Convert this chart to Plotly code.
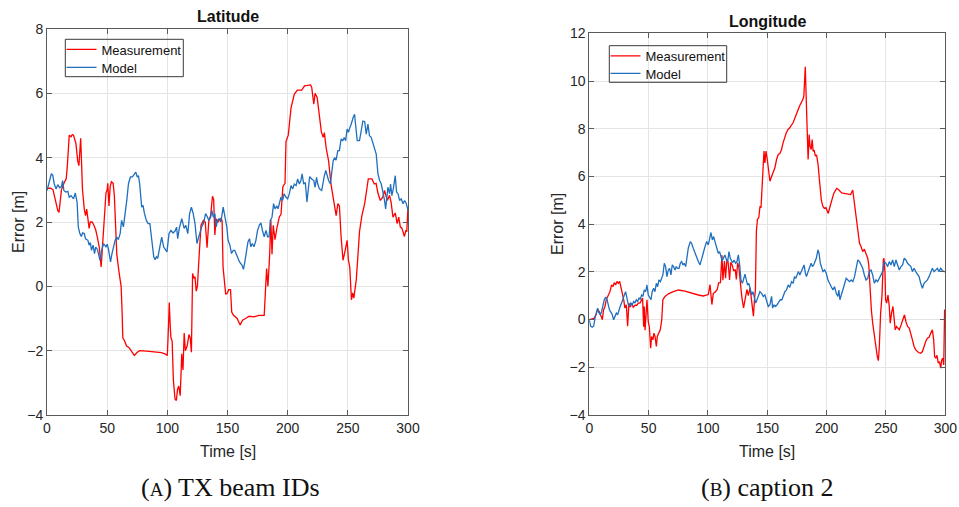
import plotly.graph_objects as go

# ---------------- data ----------------
lat_meas_t = [0, 3, 5, 7, 9, 10, 12, 14, 16, 17, 18.5, 20, 21, 22, 23, 24, 25.5, 26.5, 28, 29.5, 31, 32, 33, 34, 35, 36,
              37.5, 39, 40.5, 42, 43.5, 45, 46.5, 48, 49, 50, 50.5, 51.5, 52.5, 53.5, 55, 56, 57, 58, 60, 61.6, 62.5, 63,
              64.5, 66, 68, 70, 72.6, 75, 77, 85, 95, 98, 100, 101, 101.6, 102.5, 103, 104, 105, 106.4, 107.5, 108.5,
              109.5, 110.7, 112, 113, 114, 115, 116.5, 118, 119, 120, 121, 122, 123, 124, 125, 126.5, 128, 130, 131.5,
              133, 134.5, 136, 137.5, 138.5, 139.5, 140.5, 142, 144, 145.5, 146.3, 147.5, 148.5, 150, 151, 152.5, 153.5,
              155, 156.5, 158, 160.5, 162.5, 165, 168, 172, 176, 180.5, 182.5, 183.6, 185, 186, 187, 188, 189.5, 191,
              193, 194.5, 196, 197.8, 198.6, 200.5, 202.8, 205.5, 208, 211.7, 214, 219, 220, 221.7, 222.8, 224.5, 226,
              228, 229.5, 230.5, 232, 234, 236, 238.3, 240.3, 241.7, 243, 244.4, 246, 247.8, 249.4, 250.5, 251.6, 253,
              254, 255, 257, 258.3, 259.7, 261.7, 264, 266, 267, 270, 272, 273.5, 275, 277, 279, 280.5, 282.8, 284.7,
              286, 287.5, 289.4, 291, 292.3, 293.6, 295, 297, 298.3, 299, 300]
lat_meas_v = [3.05, 3.05, 3.0, 2.7, 2.35, 2.3, 3.0, 3.2, 3.35, 3.8, 4.7, 4.65, 4.72, 4.7, 4.55, 4.45, 3.9, 3.75, 4.6, 3.0,
              2.4, 2.2, 2.4, 2.1, 1.8, 2.0, 2.0, 1.9, 1.75, 1.5, 1.2, 0.6, 1.5, 2.3, 2.9, 3.0, 3.2, 2.5, 3.1, 3.25, 3.2,
              2.8, 2.0, 1.0, 0.4, 0.0, -0.9, -1.6, -1.7, -1.85, -1.9, -2.0, -2.15, -2.05, -2.0, -2.02, -2.06, -2.1,
              -2.15, -1.2, -0.5, -1.3, -1.6, -1.7, -2.9, -3.5, -3.55, -3.2, -3.1, -3.4, -2.1, -2.6, -1.45, -2.0, -1.85,
              -1.5, -1.6, -2.05, 0.4, 0.25, 0.3, -0.15, 0.0, 1.0, 1.9, 2.05, 2.0, 1.2, 2.05, 2.2, 2.8, 2.7, 1.6, 2.1,
              2.0, 2.1, 2.05, 0.6, 0.15, -0.25, -0.2, -0.1, -0.1, -0.8, -0.9, -0.95, -1.0, -1.2, -1.05, -1.0, -0.93,
              -0.95, -0.9, -0.9, 0.55, 0.0, 0.95, 2.07, 1.0, 1.9, 1.45, 1.8, 2.15, 2.25, 3.1, 3.2, 4.5, 4.7, 5.55, 5.97,
              6.1, 6.1, 6.23, 6.26, 6.18, 5.66, 6.0, 5.87, 5.47, 4.8, 4.63, 4.78, 4.3, 3.9, 3.18, 2.67, 2.2, 2.57, 2.5,
              1.54, 0.81, 1.12, 1.43, 0.81, 0.6, -0.42, -0.2, -0.37, 0.2, 0.9, 1.7, 2.2, 2.57, 3.08, 3.34, 3.34, 3.18,
              3.2, 2.9, 2.67, 2.77, 2.98, 2.67, 2.83, 2.6, 2.15, 2.28, 1.95, 2.15, 1.85, 1.8, 1.55, 1.75, 1.7, 2.47]

lat_model_t = [0, 1.4, 3.6, 4.8, 6, 7.5, 9, 10.5, 12, 13, 14, 15.7, 17.3, 18.5, 20, 22, 23.5, 25, 26, 27.3, 28.5, 29.6,
               31, 32, 34, 35, 36, 37, 38.3, 39.5, 40.5, 42, 44, 45.6, 47, 49, 50, 51, 52.8, 54, 55, 56.6, 58, 59.3,
               60.8, 62, 63.5, 65, 66.3, 67.7, 69.3, 71, 72.6, 73.8, 75, 76, 77, 78.7, 79.8, 81, 82.6, 84, 85.5, 87,
               88.7, 89.8, 91, 92, 93.6, 95.3, 97, 98.6, 99.7, 101.4, 103, 104.7, 106.4, 107.7, 108.6, 110, 112, 113,
               114, 115.3, 117, 118.5, 120, 121.5, 123, 124.6, 126, 127.3, 128.5, 130, 131.8, 133.4, 134.5, 136, 137,
               138.2, 139.5, 140.6, 141.7, 143, 144.5, 146.4, 147.8, 149.4, 150.5, 152, 153.3, 154.8, 156, 158, 160,
               162, 163.3, 164.4, 166, 167, 168.3, 169.4, 170.6, 172, 173.6, 175, 176.4, 177.8, 179, 180.5, 182, 183.3,
               184.5, 185.6, 187, 188.3, 189.5, 191, 192, 193.3, 194.4, 195.8, 197, 198.6, 200, 201.4, 202.8, 204.2,
               205.5, 207, 208.3, 209.7, 211, 212, 213.3, 214.7, 216, 217.2, 218.3, 220, 221.7, 222.8, 224, 225, 226.4,
               228.3, 229.4, 230.5, 231.7, 232.8, 234, 235.5, 236.7, 237.8, 239, 240.2, 241.7, 243, 244.4, 245.8, 247,
               248.2, 249.4, 250.5, 251.7, 252.8, 254.4, 255.6, 256.4, 257.8, 259.7, 261, 262.5, 264, 265.3, 266.7, 268,
               269.4, 270.8, 272.2, 273.6, 275, 276.4, 277.8, 279, 280.5, 281.4, 282.5, 283.3, 284.7, 285.5, 286.6,
               287.8, 289.4, 290.5, 291.7, 293, 294.4, 295.8, 297.2, 298.6, 300]
lat_model_v = [2.98, 3.19, 3.5, 3.45, 3.19, 3.03, 3.16, 3.06, 3.1, 3.29, 2.98, 2.93, 2.95, 2.77, 2.82, 2.72, 2.9, 2.62,
               1.85, 1.64, 1.55, 1.66, 1.64, 1.48, 1.43, 1.28, 1.36, 1.12, 1.28, 1.02, 1.22, 1.14, 0.81, 1.14, 1.33,
               1.23, 1.31, 1.17, 0.76, 1.02, 1.22, 1.43, 1.53, 1.45, 1.64, 2.05, 1.85, 2.26, 2.67, 3.19, 3.4, 3.4, 3.5,
               3.55, 3.4, 3.44, 3.19, 2.46, 2.52, 2.26, 2.05, 1.95, 1.95, 1.53, 0.92, 0.83, 0.92, 0.87, 1.22, 1.53, 1.22,
               1.12, 1.07, 1.64, 1.74, 1.66, 1.72, 1.84, 1.48, 1.82, 2.1, 1.95, 1.8, 1.9, 1.64, 2.26, 2.46, 2.26, 1.95,
               1.33, 1.53, 1.74, 1.85, 1.95, 2.26, 2.15, 2.05, 2.15, 2.36, 2.15, 2.26, 1.85, 2.05, 2.1, 2.0, 2.46, 2.2,
               1.85, 1.43, 1.28, 1.02, 1.12, 1.12, 0.92, 0.76, 0.66, 0.53, 0.76, 1.12, 1.38, 1.48, 1.23, 1.33, 1.23,
               1.43, 1.74, 1.9, 1.97, 1.74, 1.54, 1.74, 1.54, 1.54, 2.05, 2.15, 2.57, 2.41, 2.5, 2.41, 2.67, 2.77, 2.67,
               2.88, 2.77, 2.72, 2.88, 3.13, 3.03, 3.18, 3.13, 3.34, 3.18, 3.29, 3.5, 3.18, 3.23, 2.62, 3.03, 3.41,
               3.34, 3.29, 3.08, 3.39, 3.18, 3.03, 2.98, 3.29, 3.44, 3.6, 3.44, 3.29, 3.18, 3.65, 3.9, 4.0, 3.92, 4.22,
               4.22, 4.58, 4.53, 4.63, 4.53, 4.89, 4.79, 4.94, 5.04, 5.25, 5.35, 5.04, 4.53, 4.53, 4.89, 5.14, 5.12,
               4.73, 5.04, 4.68, 4.63, 4.48, 4.32, 4.11, 3.5, 3.29, 3.18, 2.98, 2.67, 2.41, 2.77, 3.08, 2.88, 3.18,
               2.82, 3.03, 3.44, 2.93, 2.88, 2.67, 2.72, 2.57, 2.67, 2.57, 2.36]

lon_meas_t = [0, 2, 4, 5.6, 7, 8.5, 9.8, 11, 12, 13.2, 14.3, 16, 17.4, 18.8, 20, 21, 22.2, 23.3, 24.5, 25.6, 26.7, 27.8,
              29, 30, 31.2, 32.3, 33.4, 34.5, 35.7, 37, 38.5, 40, 41.3, 42.7, 44, 44.9, 45.8, 46.3, 47, 47.8, 48.6,
              49.7, 50.6, 51.7, 52.5, 53.6, 54.5, 55.4, 56.5, 57.3, 58.7, 59.8, 61, 62, 63.8, 66.6, 70.8, 75, 80.6, 86,
              91.9, 96, 100.3, 101.7, 103.3, 104.5, 106, 107.8, 109, 110.5, 111.8, 112.6, 113.9, 114.8, 116, 117,
              118.2, 119.2, 120.3, 121.7, 123, 123.9, 125, 126, 127.2, 128.6, 130, 131.3, 132.8, 134, 135.5, 137,
              138.3, 139.2, 140, 140.8, 141.7, 142.8, 143.9, 144.7, 145.5, 146.4, 147.2, 148, 148.9, 150, 151, 152.2,
              153.6, 155, 156.4, 157.8, 159.2, 160.6, 162, 163.3, 164.7, 166, 167.5, 168.9, 171.7, 174.4, 177.2, 180,
              180.8, 182, 182.8, 183.6, 184.4, 185.3, 186, 187, 187.8, 188.6, 189.5, 190.5, 191.5, 192.8, 193.9, 194.7,
              195.5, 196.7, 198, 199.4, 200.8, 201.4, 202.8, 204.2, 206, 208.4, 210, 212.6, 215.4, 218.3, 220.2, 222,
              223, 224.9, 226.5, 227.7, 229, 230.4, 231.8, 233.2, 234.6, 235.5, 236.6, 237.7, 238.8, 240.2, 241.6,
              242.7, 243.6, 244.4, 245.5, 246.6, 247.8, 248.3, 249.2, 249.7, 250.6, 251.7, 252.8, 253.6, 254.7, 255.9,
              256.7, 257.8, 258.9, 260, 261.2, 262.8, 264.5, 265.6, 266.8, 268.2, 269.6, 271, 272.3, 273.7, 275.1,
              277.4, 279.3, 280.7, 282, 283.5, 284.9, 286.3, 287.7, 289.1, 290.2, 291, 291.9, 293, 294.1, 295.1, 296.1,
              297, 297.9, 298.7, 299.4, 300]
lon_meas_v = [0.0, 0.02, 0.05, 0.2, 0.43, 0.33, 0.13, 0.0, 0.4, 0.55, 0.83, 1.0, 1.17, 1.45, 1.38, 1.55, 1.45, 1.6, 1.52,
              1.6, 1.38, 1.08, 0.83, 0.48, 0.62, -0.28, 0.69, 0.52, 0.69, 0.52, 0.6, 0.6, 0.69, 0.69, 0.83, 0.9, -0.3,
              0.55, -0.45, 0.25, 0.83, -0.1, -0.3, -1.2, -0.71, -0.85, -0.57, -0.71, -1.13, -0.71, -0.57, -0.43, -0.03,
              0.83, 0.97, 1.08, 1.17, 1.24, 1.19, 1.1, 1.03, 0.99, 1.05, 1.47, 0.63, 1.1, 1.15, 1.26, 1.54, 1.55, 2.7,
              1.65, 2.45, 1.73, 2.52, 2.4, 1.66, 2.4, 2.3, 2.03, 2.1, 1.68, 2.38, 2.2, 1.54, 0.91, 0.49, 0.85, 1.26,
              1.0, 1.33, 0.7, 0.14, 0.83, 1.26, 3.7, 4.2, 4.27, 4.76, 4.69, 5.45, 6.71, 7.06, 6.57, 7.06, 6.71, 6.3,
              5.8, 6.0, 6.15, 6.36, 6.71, 6.92, 6.96, 7.13, 7.41, 7.66, 7.83, 7.97, 8.04, 8.25, 8.6, 8.95, 9.23, 9.37,
              10.6, 9.65, 7.97, 6.71, 7.76, 7.27, 7.13, 7.55, 7.06, 7.1, 6.85, 6.9, 6.5, 5.87, 5.31, 5.03, 4.76, 4.66,
              4.69, 4.48, 4.45, 4.73, 4.94, 5.29, 5.5, 5.45, 5.31, 5.29, 5.26, 5.24, 5.43, 5.0, 4.18, 3.62, 3.2, 3.06,
              2.85, 2.95, 2.78, 2.57, 2.3, 1.1, 0.4, -0.15, -0.71, -1.13, -1.55, -1.72, -1.13, 0.27, 0.97, 2.5, 2.57,
              1.94, 0.83, 0.69, 1.03, 0.55, -0.15, 0.27, 0.55, 0.13, -0.43, -0.29, -0.36, -0.43, -0.22, 0.0, 0.2,
              -0.08, -0.29, -0.36, -0.57, -0.85, -1.13, -1.27, -1.38, -1.41, -1.34, -1.13, -0.92, -0.78, -0.74, -0.57,
              -0.43, -0.85, -1.55, -1.62, -1.5, -1.83, -1.76, -2.04, -1.69, -1.62, -1.9, 0.4, 0.4]

lon_model_t = [0, 1.1, 2.5, 3.7, 4.8, 6, 7, 8, 9.3, 10.4, 11.5, 12.6, 13.8, 15, 16, 17, 18.3, 19.4, 20.5, 21.6, 22.8,
               23.9, 25, 26, 27.2, 28.4, 29.5, 30.6, 31.7, 32.9, 34, 35, 36.2, 37.4, 38.5, 39.6, 40.8, 41.9, 43, 44.1,
               45.2, 46.3, 47.5, 48.6, 49.7, 50.8, 52, 53, 54.2, 55.3, 56.5, 57.6, 58.7, 59.9, 61, 62, 63.2, 64.3, 65.4,
               66.6, 67.7, 68.8, 69.9, 71, 72.2, 73.3, 74.4, 75.6, 76.7, 77.8, 79, 80, 81.2, 82.3, 83.4, 85.1, 86.2,
               87.6, 89, 90.4, 91.9, 93.3, 94.7, 96, 97.5, 98.9, 100.3, 101.7, 102.5, 103.7, 104.8, 105.9, 107.3, 108.7,
               109.8, 111, 112, 113.2, 114.3, 115.5, 116.6, 117.7, 118.8, 120, 121, 122, 123.3, 124.4, 125.6, 126.7,
               127.8, 129, 130, 131.2, 132.3, 133.4, 134.5, 135.7, 136.8, 137.9, 139, 140.2, 141.3, 142.4, 143.8,
               145.2, 146.6, 148, 149.4, 150.8, 152.2, 153.6, 154.5, 155.6, 156.7, 158.3, 160, 161, 162.3, 163.4,
               164.8, 166.2, 167.6, 169, 170.4, 171.8, 172.9, 174, 175.1, 176.2, 177.4, 178.8, 180.2, 181, 182.1, 183,
               184.4, 185.8, 186.9, 188, 189.1, 190.2, 191.3, 192.7, 193.6, 194.7, 195.8, 196.9, 198.3, 199.7, 201.1,
               202.5, 203.9, 205.3, 206.7, 208.1, 209.5, 210.3, 211.2, 212.3, 213.7, 215.1, 216.5, 217.9, 219.3, 220.7,
               222.1, 223.5, 224.9, 226.3, 227.7, 229, 230.4, 231.8, 233.2, 234.6, 236, 237.4, 238.8, 240.2, 241.6, 243,
               244.4, 245.8, 247.2, 248.6, 250, 251.4, 252.8, 254.2, 255.6, 257, 258.4, 259.8, 261.2, 262.6, 264,
               265.4, 266.8, 268.2, 269.6, 271, 272.3, 273.7, 275.1, 276.5, 277.9, 279.3, 280.7, 282.1, 283.5, 284.9,
               286.3, 287.7, 289.1, 290.5, 291.9, 293.3, 294.7, 296.1, 297.5, 298.9, 300]
lon_model_v = [-0.01, -0.27, -0.32, -0.27, 0.06, 0.27, 0.48, 0.3, 0.2, 0.34, 0.62, 0.83, 0.94, 0.83, 0.62, 0.41, 0.3,
               0.2, -0.01, 0.13, 0.27, 0.2, 0.41, 0.55, 0.69, 0.83, 1.03, 1.17, 0.9, 0.62, 0.55, 0.69, 0.62, 0.76, 0.69,
               0.83, 0.76, 0.9, 0.86, 1.03, 0.97, 1.24, 1.17, 1.45, 1.03, 0.9, 0.83, 1.17, 1.31, 1.17, 1.52, 1.38, 1.66,
               1.59, 1.8, 1.87, 2.36, 2.22, 1.8, 2.08, 2.15, 1.87, 2.29, 2.22, 2.08, 2.22, 2.15, 2.15, 2.36, 2.43, 2.29,
               2.36, 2.22, 2.57, 2.99, 3.27, 3.2, 2.99, 2.78, 2.57, 2.43, 2.29, 2.5, 2.78, 3.06, 3.27, 3.13, 3.41, 3.65,
               3.34, 3.48, 3.27, 3.06, 2.78, 2.85, 2.64, 2.45, 2.6, 2.71, 2.52, 2.43, 2.85, 2.57, 2.45, 2.4, 2.5, 2.36,
               2.43, 2.71, 2.29, 1.66, 1.52, 1.73, 1.9, 1.66, 1.45, 1.52, 1.24, 1.03, 1.17, 0.97, 0.69, 0.83, 0.97,
               1.17, 1.1, 0.97, 1.03, 0.83, 0.55, 0.62, 0.97, 0.48, 0.62, 0.55, 0.62, 0.76, 0.83, 0.83, 1.03, 1.17,
               1.24, 1.45, 1.35, 1.59, 1.52, 1.8, 1.73, 1.87, 2.01, 1.87, 2.06, 2.22, 2.29, 1.94, 1.8, 2.01, 2.22,
               2.36, 2.22, 2.29, 2.43, 2.57, 2.92, 2.78, 2.36, 2.22, 2.01, 2.08, 1.94, 1.66, 1.52, 1.31, 1.24, 1.38,
               1.1, 0.97, 1.24, 0.83, 1.03, 1.17, 1.45, 1.73, 1.66, 1.59, 1.66, 1.59, 1.8, 2.22, 2.5, 2.43, 2.29, 2.15,
               1.87, 1.66, 1.73, 2.01, 2.08, 1.87, 1.52, 1.66, 1.59, 1.73, 1.87, 2.01, 2.43, 2.36, 2.22, 2.43, 2.29,
               2.5, 2.22, 2.5, 2.29, 2.08, 2.22, 2.29, 2.57, 2.5, 2.36, 2.29, 2.22, 2.01, 2.15, 2.01, 1.87, 1.8, 1.52,
               1.31, 1.52, 1.59, 1.66, 1.8, 2.01, 2.15, 2.01, 2.08, 2.15, 2.01, 2.15, 2.06, 2.01, 2.01]

x_ticks = [0, 50, 100, 150, 200, 250, 300]
lat_y_ticks = [-4, -2, 0, 2, 4, 6, 8]
lon_y_ticks = [-4, -2, 0, 2, 4, 6, 8, 10, 12]

# ---------------- layout helpers ----------------
W, H = 959, 507


def fx(px):
    return px / W


def fy(py):
    return 1 - py / H


SANS = "Liberation Sans, Arial, Helvetica, sans-serif"
SERIF = "Liberation Serif, Times New Roman, serif"
RED = "#ff0000"
BLUE = "#1f6fbf"

fig = go.Figure()

fig.add_trace(go.Scatter(x=lat_meas_t, y=lat_meas_v, mode="lines", name="Measurement",
                         line=dict(color=RED, width=1.3), xaxis="x", yaxis="y", legend="legend"))
fig.add_trace(go.Scatter(x=lat_model_t, y=lat_model_v, mode="lines", name="Model",
                         line=dict(color=BLUE, width=1.3), xaxis="x", yaxis="y", legend="legend2"))
fig.add_trace(go.Scatter(x=lon_meas_t, y=lon_meas_v, mode="lines", name="Measurement",
                         line=dict(color=RED, width=1.3), xaxis="x2", yaxis="y2", legend="legend3"))
fig.add_trace(go.Scatter(x=lon_model_t, y=lon_model_v, mode="lines", name="Model",
                         line=dict(color=BLUE, width=1.3), xaxis="x2", yaxis="y2", legend="legend4"))

axis_common = dict(
    showline=True, linecolor="#5a5a5a", linewidth=1, mirror="ticks",
    ticks="inside", ticklen=5, tickwidth=1, tickcolor="#5a5a5a",
    showgrid=True, gridcolor="#e4e4e4", gridwidth=1, zeroline=False, automargin=False,
    tickfont=dict(family=SANS, size=14, color="#262626"),
)


def legend_at(px, py):
    # px: left edge of legend line sample, py: vertical centre of the entry
    return dict(x=fx(px - 5), y=fy(py), xanchor="left", yanchor="middle",
                borderwidth=0, bgcolor="rgba(0,0,0,0)",
                font=dict(family=SANS, size=13, color="#111111"),
                itemwidth=30, tracegroupgap=0)


fig.update_layout(
    width=W, height=H, autosize=False,
    margin=dict(l=0, r=0, t=0, b=0, pad=0, autoexpand=False),
    paper_bgcolor="white", plot_bgcolor="white",
    showlegend=True,
    xaxis=dict(domain=[fx(47), fx(408)], range=[0, 300], tickvals=x_ticks, anchor="y", **axis_common),
    yaxis=dict(domain=[fy(415), fy(29)], range=[-4, 8], tickvals=lat_y_ticks, anchor="x", **axis_common),
    xaxis2=dict(domain=[fx(589.3), fx(945.3)], range=[0, 300], tickvals=x_ticks, anchor="y2", **axis_common),
    yaxis2=dict(domain=[fy(415), fy(33.3)], range=[-4, 12], tickvals=lon_y_ticks, anchor="x2", **axis_common),
    legend=legend_at(66.5, 49.5),
    legend2=legend_at(66.5, 67.5),
    legend3=legend_at(610.5, 56),
    legend4=legend_at(610.5, 73.5),
    shapes=[
        dict(type="rect", xref="paper", yref="paper", x0=fx(65.3), x1=fx(183.3), y0=fy(76.7), y1=fy(39.3),
             line=dict(color="#3a3a3a", width=1), fillcolor="rgba(0,0,0,0)", layer="above"),
        dict(type="rect", xref="paper", yref="paper", x0=fx(609.3), x1=fx(726.7), y0=fy(82.3), y1=fy(45.7),
             line=dict(color="#3a3a3a", width=1), fillcolor="rgba(0,0,0,0)", layer="above"),
    ],
)

annotations = [
    # titles
    dict(text="<b>Latitude</b>", x=fx(227.5), y=fy(16.3), font=dict(family=SANS, size=16, color="#111111")),
    dict(text="<b>Longitude</b>", x=fx(767.5), y=fy(21.5), font=dict(family=SANS, size=16, color="#111111")),
    # x labels
    dict(text="Time [s]", x=fx(227.5), y=fy(451), font=dict(family=SANS, size=16, color="#262626")),
    dict(text="Time [s]", x=fx(767.3), y=fy(451), font=dict(family=SANS, size=16, color="#262626")),
    # y labels
    dict(text="Error [m]", x=fx(18), y=fy(222), textangle=-90, font=dict(family=SANS, size=16, color="#262626")),
    dict(text="Error [m]", x=fx(557), y=fy(224), textangle=-90, font=dict(family=SANS, size=16, color="#262626")),
    # captions
    dict(text="(<span style='font-size:19px'>A</span>) TX beam IDs", x=fx(230.5), y=fy(487),
         font=dict(family=SERIF, size=26, color="#111111")),
    dict(text="(<span style='font-size:19px'>B</span>) caption 2", x=fx(767.8), y=fy(487),
         font=dict(family=SERIF, size=26, color="#111111")),
]
for a in annotations:
    a.update(xref="paper", yref="paper", xanchor="center", yanchor="middle", showarrow=False)
fig.update_layout(annotations=annotations)

fig.write_html("out.html", config={"displayModeBar": False},
               post_script="document.body.style.margin='0px';document.body.style.padding='0px';")
